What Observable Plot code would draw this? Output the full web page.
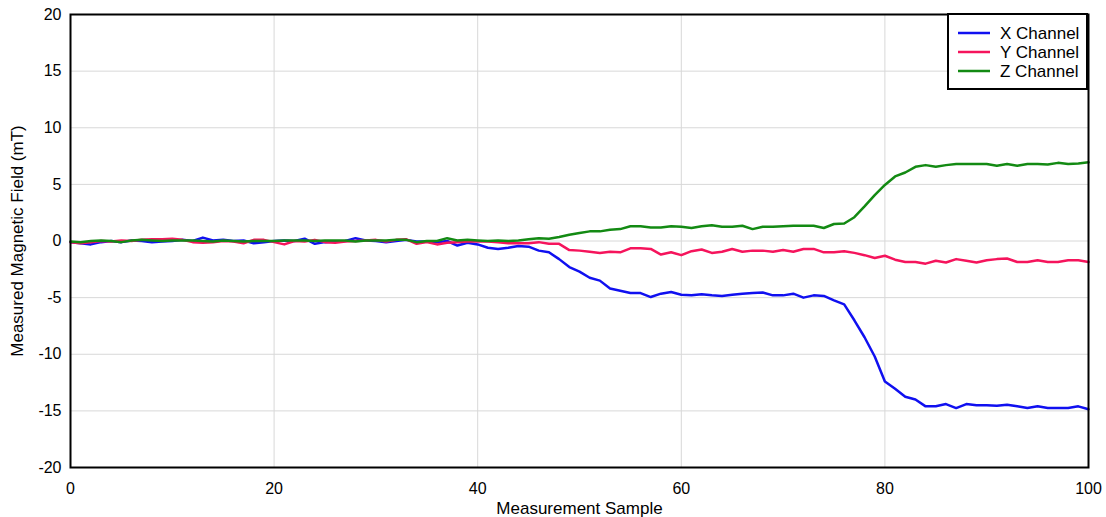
<!DOCTYPE html>
<html>
<head>
<meta charset="utf-8">
<script src="https://cdn.jsdelivr.net/npm/d3@7"></script>
<script src="https://cdn.jsdelivr.net/npm/@observablehq/plot@0.6"></script>
<style>
  html, body { margin: 0; padding: 0; background: #fff; }
  svg { font-family: "Liberation Sans", Arial, sans-serif; }
  #chart svg g[aria-label$="tick label"], #chart svg g[aria-label$="tick label"] text { font-size: 16px !important; }
  #chart svg g[aria-label="x-axis label"], #chart svg g[aria-label="x-axis label"] text,
  #chart svg g[aria-label="y-axis label"], #chart svg g[aria-label="y-axis label"] text { font-size: 17px !important; }
</style>
</head>
<body>
<div id="chart"></div>
<script>
const seriesNames = ["X Channel", "Y Channel", "Z Channel"];
const seriesColors = ["#1010f0", "#f5145c", "#138a13"];

const xValues = [
  -0.1, -0.2, -0.3, -0.1, 0.0, -0.1, 0.05, 0.0, -0.1, -0.05,
  0.0, 0.1, 0.0, 0.3, 0.05, 0.1, 0.0, 0.05, -0.2, -0.1,
  0.0, 0.05, 0.0, 0.2, -0.25, -0.1, -0.05, 0.0, 0.25, 0.05,
  0.0, -0.1, 0.0, 0.1, -0.05, -0.05, -0.1, 0.0, -0.4, -0.15,
  -0.3, -0.6, -0.7, -0.6, -0.45, -0.5, -0.85, -1.0, -1.6, -2.3,
  -2.7, -3.25, -3.5, -4.2, -4.4, -4.6, -4.6, -4.95, -4.65, -4.5,
  -4.75, -4.8, -4.7, -4.8, -4.85, -4.75, -4.65, -4.6, -4.55, -4.8,
  -4.8, -4.65, -5.0, -4.8, -4.85, -5.25, -5.6, -7.0, -8.5, -10.2,
  -12.4, -13.05, -13.75, -14.0, -14.6, -14.6, -14.4, -14.75, -14.4, -14.5,
  -14.5, -14.55, -14.45, -14.6, -14.75, -14.6, -14.75, -14.75, -14.75, -14.6,
  -14.85
];
const yValues = [
  -0.1, -0.2, -0.1, 0.0, -0.05, 0.05, 0.0, 0.1, 0.15, 0.15,
  0.2, 0.1, -0.1, -0.15, -0.1, 0.0, -0.05, -0.2, 0.1, 0.1,
  -0.1, -0.3, 0.0, -0.05, 0.1, -0.1, -0.15, -0.05, 0.0, 0.05,
  0.1, -0.05, 0.1, 0.15, -0.25, -0.1, -0.3, -0.15, -0.1, -0.05,
  -0.05, -0.05, -0.1, -0.2, -0.2, -0.2, -0.1, -0.25, -0.25, -0.8,
  -0.85, -0.95, -1.05, -0.95, -1.0, -0.65, -0.65, -0.7, -1.2, -1.0,
  -1.25, -0.9, -0.75, -1.05, -0.95, -0.7, -0.95, -0.85, -0.85, -0.95,
  -0.8, -0.95, -0.7, -0.7, -1.0, -1.0, -0.9, -1.05, -1.25, -1.5,
  -1.3, -1.65, -1.85, -1.85, -2.0, -1.75, -1.9, -1.6, -1.75, -1.9,
  -1.7, -1.6, -1.55, -1.85, -1.85, -1.7, -1.85, -1.85, -1.7, -1.7,
  -1.85
];
const zValues = [
  -0.05, -0.1, 0.0, 0.05, 0.0, -0.1, 0.05, 0.1, 0.05, 0.0,
  0.05, 0.05, 0.05, 0.0, -0.05, 0.05, 0.0, -0.05, 0.0, 0.0,
  0.0, 0.05, 0.05, 0.05, 0.0, 0.05, 0.05, 0.05, -0.05, 0.05,
  0.05, 0.05, 0.1, 0.1, -0.1, 0.0, 0.0, 0.25, 0.05, 0.1,
  0.05, 0.0, 0.05, 0.0, 0.05, 0.15, 0.25, 0.2, 0.35, 0.55,
  0.7, 0.85, 0.85, 1.0, 1.05, 1.3, 1.3, 1.2, 1.2, 1.3,
  1.25, 1.15, 1.3, 1.4, 1.25, 1.25, 1.35, 1.05, 1.25, 1.25,
  1.3, 1.35, 1.35, 1.35, 1.15, 1.5, 1.55, 2.1, 3.05, 4.05,
  4.95, 5.7, 6.05, 6.55, 6.7, 6.55, 6.7, 6.8, 6.8, 6.8,
  6.8, 6.65, 6.8, 6.65, 6.8, 6.8, 6.75, 6.9, 6.8, 6.85,
  6.95
];
const xTicks = [0, 20, 40, 60, 80, 100];
const yTicks = [-20, -15, -10, -5, 0, 5, 10, 15, 20];

const allSeries = [xValues, yValues, zValues];
const data = [];
allSeries.forEach((vals, s) => {
  vals.forEach((v, i) => data.push({sample: i, value: v, series: seriesNames[s]}));
});

const fmt = d => String(d);
const W = 1106, H = 517;
const plot = Plot.plot({
  width: W,
  height: H,
  marginLeft: 70,
  marginRight: 18,
  marginTop: 14,
  marginBottom: 50,
  style: {fontFamily: "'Liberation Sans', Arial, sans-serif", fontSize: "16px", color: "#000", background: "#fff"},
  x: {domain: [0, 100], ticks: xTicks},
  y: {domain: [-20, 20], ticks: yTicks},
  color: {domain: seriesNames, range: seriesColors},
  marks: [
    Plot.gridX(xTicks.filter(t => t > 0 && t < 100), {stroke: "#d8d8d8", strokeOpacity: 1, strokeWidth: 1}),
    Plot.gridY(yTicks.filter(t => t > -20 && t < 20), {stroke: "#d8d8d8", strokeOpacity: 1, strokeWidth: 1}),
    Plot.line(data, {x: "sample", y: "value", z: "series", stroke: "series", strokeWidth: 2.5, curve: "linear"}),
    Plot.axisX({ticks: xTicks, tickFormat: fmt, tickSize: 0, tickPadding: 15, fontSize: 16, label: "Measurement Sample", labelAnchor: "center", labelOffset: 46, labelArrow: "none"}),
    Plot.axisY({ticks: yTicks, tickFormat: fmt, tickSize: 0, tickPadding: 9, fontSize: 16, label: "Measured Magnetic Field (mT)", labelAnchor: "center", labelOffset: 60, labelArrow: "none"}),
    Plot.frame({stroke: "#000", strokeWidth: 2})
  ]
});
document.getElementById("chart").appendChild(plot);

// Legend (inside the plot, top-right)
const svg = d3.select(plot);
const lx = 948, ly = 14, lw = 139, lh = 75;
const g = svg.append("g").attr("class", "legend").attr("text-anchor", "start");
g.append("rect").attr("x", lx).attr("y", ly).attr("width", lw).attr("height", lh)
  .attr("fill", "#fff").attr("stroke", "#000").attr("stroke-width", 2);
seriesNames.forEach((name, i) => {
  const yy = ly + 19 + i * 19;
  g.append("line").attr("x1", lx + 10).attr("x2", lx + 42).attr("y1", yy).attr("y2", yy)
    .attr("stroke", seriesColors[i]).attr("stroke-width", 2.5);
  g.append("text").attr("x", lx + 52).attr("y", yy).attr("dy", "0.35em")
    .attr("text-anchor", "start")
    .style("font-size", "17px").attr("fill", "#000").text(name);
});
</script>
</body>
</html>
